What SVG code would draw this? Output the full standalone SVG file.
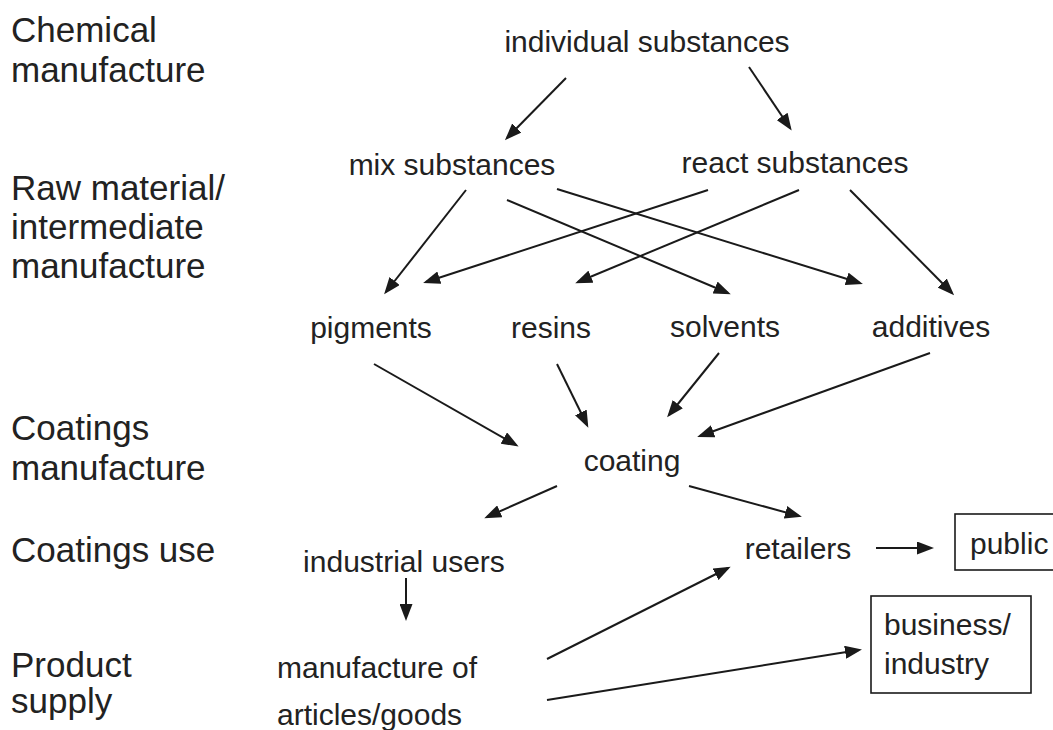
<svg xmlns="http://www.w3.org/2000/svg" width="1053" height="730" viewBox="0 0 1053 730">
<style>
text{font-family:"Liberation Sans",Arial,sans-serif;fill:#222}
.lbl{font-size:35px}
.n{font-size:30px;text-anchor:middle}
.ns{font-size:30px}
.c line{stroke:#1a1a1a;stroke-width:2;marker-end:url(#ah)}
.box{fill:none;stroke:#1a1a1a;stroke-width:1.6}
</style>
<defs>
<marker id="ah" markerUnits="userSpaceOnUse" markerWidth="17" markerHeight="13" refX="14" refY="6.5" orient="auto" viewBox="0 0 17 13">
<path d="M0,0 L17,6.5 L0,13 z" fill="#1a1a1a"/>
</marker>
</defs>
<rect width="1053" height="730" fill="#fff"/>
<g id="stage-labels">
<text class="lbl" x="11" y="42">Chemical</text>
<text class="lbl" x="11" y="82">manufacture</text>
<text class="lbl" x="11" y="200">Raw material/</text>
<text class="lbl" x="11" y="239">intermediate</text>
<text class="lbl" x="11" y="278">manufacture</text>
<text class="lbl" x="11" y="440">Coatings</text>
<text class="lbl" x="11" y="480">manufacture</text>
<text class="lbl" x="11" y="562">Coatings use</text>
<text class="lbl" x="11" y="677">Product</text>
<text class="lbl" x="11" y="713">supply</text>
</g>
<g id="individual"><text class="n" x="647" y="52">individual substances</text></g>
<g id="mix"><text class="n" x="452" y="175">mix substances</text></g>
<g id="react"><text class="n" x="795" y="173">react substances</text></g>
<g id="pigments"><text class="n" x="371" y="338">pigments</text></g>
<g id="resins"><text class="n" x="551" y="338">resins</text></g>
<g id="solvents"><text class="n" x="725" y="337">solvents</text></g>
<g id="additives"><text class="n" x="931" y="337">additives</text></g>
<g id="coating"><text class="n" x="632" y="471">coating</text></g>
<g id="industrial"><text class="n" x="404" y="572">industrial users</text></g>
<g id="retailers"><text class="n" x="798" y="559">retailers</text></g>
<g id="public"><rect class="box" x="955" y="514" width="110" height="56"/><text class="ns" x="970" y="554">public</text></g>
<g id="business"><rect class="box" x="871" y="596" width="160" height="97"/><text class="ns" x="884" y="635">business/</text><text class="ns" x="884" y="674">industry</text></g>
<g id="articles"><text class="ns" x="277" y="678">manufacture of</text><text class="ns" x="277" y="725">articles/goods</text></g>
<g id="connectors" class="c">
<line x1="566" y1="78" x2="507" y2="138"/>
<line x1="749" y1="67" x2="790" y2="128"/>
<line x1="466" y1="190" x2="386" y2="292"/>
<line x1="708" y1="190" x2="426" y2="282"/>
<line x1="799" y1="190" x2="578" y2="282"/>
<line x1="507" y1="200" x2="728" y2="293"/>
<line x1="557" y1="189" x2="860" y2="283"/>
<line x1="850" y1="190" x2="952" y2="293"/>
<line x1="374" y1="364" x2="516" y2="445"/>
<line x1="557" y1="364" x2="587" y2="425"/>
<line x1="719" y1="353" x2="669" y2="415"/>
<line x1="930" y1="353" x2="700" y2="436"/>
<line x1="557" y1="486" x2="487" y2="517"/>
<line x1="689" y1="486" x2="799" y2="516"/>
<line x1="406" y1="578" x2="406" y2="618"/>
<line x1="547" y1="659" x2="728" y2="568"/>
<line x1="547" y1="700" x2="859" y2="650"/>
<line x1="876" y1="548" x2="931" y2="548"/>
</g>
</svg>
